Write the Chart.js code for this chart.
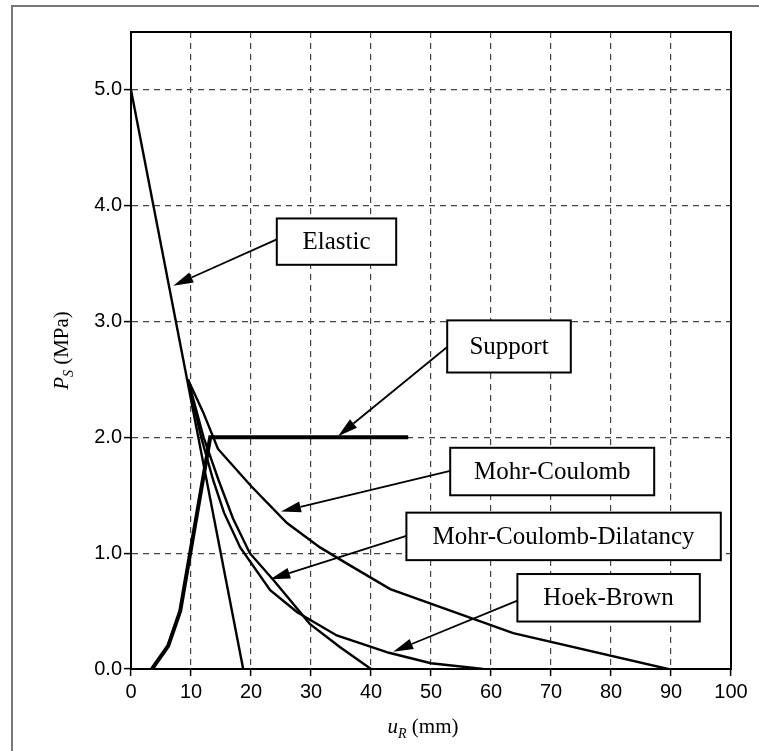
<!DOCTYPE html>
<html>
<head>
<meta charset="utf-8">
<script src="https://cdn.jsdelivr.net/npm/chart.js@4"></script>
<style>
  html, body { margin: 0; padding: 0; background: #fff; }
  #wrap { width: 759px; height: 751px; position: relative; }
</style>
</head>
<body>
<div id="wrap"><canvas id="chart"></canvas></div>
<script>
// Ground reaction curves: radial displacement u_R (mm) vs support pressure P_S (MPa)
const elasticU = [0, 18.7];
const elasticP = [5.0, 0.0];

const mcU = [9.5, 12.0, 14.5, 20.0, 26.0, 31.5, 36.0, 43.2, 63.7, 89.5];
const mcP = [2.5, 2.22, 1.9, 1.58, 1.26, 1.05, 0.91, 0.69, 0.31, 0.0];

const mcdU = [9.5, 12.1, 14.6, 17.0, 19.8, 23.7, 29.8, 34.8, 40.0];
const mcdP = [2.5, 2.0, 1.63, 1.3, 1.0, 0.77, 0.39, 0.19, 0.0];

const hbU = [9.5, 11.7, 13.7, 15.5, 18.2, 23.2, 27.7, 34.3, 43.0, 50.0, 58.7];
const hbP = [2.5, 2.0, 1.63, 1.35, 1.05, 0.68, 0.49, 0.29, 0.14, 0.05, 0.0];

const supportU = [3.5, 6.2, 8.2, 13.2, 46.2];
const supportP = [0.0, 0.2, 0.5, 2.0, 2.0];

const xTicks = [0, 10, 20, 30, 40, 50, 60, 70, 80, 90, 100];
const yTicks = [0.0, 1.0, 2.0, 3.0, 4.0, 5.0];

// callout labels, placed in data units
const notes = [
    { text: 'Elastic', box: [24.3, 3.89, 44.2, 3.49], from: [24.3, 3.71], to: [7.05, 3.31] },
    { text: 'Support', box: [52.7, 3.01, 73.3, 2.56], from: [52.7, 2.78], to: [34.5, 2.01] },
    { text: 'Mohr-Coulomb', box: [53.2, 1.91, 87.2, 1.50], from: [53.2, 1.71], to: [25.0, 1.36] },
    { text: 'Mohr-Coulomb-Dilatancy', box: [45.9, 1.35, 98.3, 0.94], from: [45.9, 1.15], to: [23.2, 0.775] },
    { text: 'Hoek-Brown', box: [64.4, 0.82, 94.8, 0.41], from: [64.4, 0.59], to: [43.7, 0.15] }
];

const toPoints = (us, ps) => us.map((u, i) => ({ x: u, y: ps[i] }));

function line(us, ps, width) {
    return {
        data: toPoints(us, ps),
        showLine: true,
        borderColor: '#000',
        borderWidth: width,
        pointRadius: 0,
        tension: 0,
        fill: false
    };
}

function drawArrow(ctx, x1, y1, x2, y2) {
    const ang = Math.atan2(y2 - y1, x2 - x1);
    const len = 20, half = 5.5;
    const bx = x2 - len * Math.cos(ang), by = y2 - len * Math.sin(ang);
    ctx.beginPath();
    ctx.moveTo(x1, y1);
    ctx.lineTo(bx, by);
    ctx.lineWidth = 1.8;
    ctx.strokeStyle = '#000';
    ctx.stroke();
    ctx.beginPath();
    ctx.moveTo(x2, y2);
    ctx.lineTo(bx + half * Math.sin(ang), by - half * Math.cos(ang));
    ctx.lineTo(bx - half * Math.sin(ang), by + half * Math.cos(ang));
    ctx.closePath();
    ctx.fillStyle = '#000';
    ctx.fill();
}

const decorations = {
    id: 'decorations',
    beforeDraw(chart) {
        const ctx = chart.ctx;
        ctx.save();
        ctx.fillStyle = '#fff';
        ctx.fillRect(0, 0, chart.width, chart.height);
        // page frame
        ctx.strokeStyle = '#777';
        ctx.lineWidth = 2;
        ctx.beginPath();
        ctx.moveTo(12, chart.height);
        ctx.lineTo(12, 6);
        ctx.lineTo(chart.width, 6);
        ctx.stroke();
        ctx.restore();
    },
    afterDatasetsDraw(chart) {
        const ctx = chart.ctx;
        const sx = chart.scales.x, sy = chart.scales.y;
        const a = chart.chartArea;
        ctx.save();
        // plot frame
        ctx.strokeStyle = '#000';
        ctx.lineWidth = 2;
        ctx.strokeRect(a.left, a.top, a.right - a.left, a.bottom - a.top);

        notes.forEach(n => {
            const x1 = sx.getPixelForValue(n.box[0]), y1 = sy.getPixelForValue(n.box[1]);
            const x2 = sx.getPixelForValue(n.box[2]), y2 = sy.getPixelForValue(n.box[3]);
            drawArrow(ctx,
                sx.getPixelForValue(n.from[0]), sy.getPixelForValue(n.from[1]),
                sx.getPixelForValue(n.to[0]), sy.getPixelForValue(n.to[1]));
            ctx.fillStyle = '#fff';
            ctx.fillRect(x1, y1, x2 - x1, y2 - y1);
            ctx.strokeStyle = '#000';
            ctx.lineWidth = 2;
            ctx.strokeRect(x1, y1, x2 - x1, y2 - y1);
            ctx.fillStyle = '#000';
            ctx.font = '25px "Liberation Serif", "Times New Roman", serif';
            ctx.textAlign = 'center';
            ctx.textBaseline = 'middle';
            ctx.fillText(n.text, (x1 + x2) / 2, (y1 + y2) / 2 + 1);
        });

        // axis titles with subscripts
        ctx.fillStyle = '#000';
        ctx.textBaseline = 'alphabetic';
        ctx.textAlign = 'left';
        const big = '21px "Liberation Serif", serif';
        const bigIt = 'italic 21px "Liberation Serif", serif';
        const subIt = 'italic 14px "Liberation Serif", serif';

        function titleParts(parts) {
            let w = 0;
            parts.forEach(p => { ctx.font = p.font; w += ctx.measureText(p.t).width; });
            return w;
        }
        function drawParts(parts, x, y) {
            parts.forEach(p => {
                ctx.font = p.font;
                ctx.fillText(p.t, x, y + (p.dy || 0));
                x += ctx.measureText(p.t).width;
            });
        }
        const xParts = [{ t: 'u', font: bigIt }, { t: 'R', font: subIt, dy: 5 }, { t: ' (mm)', font: big }];
        const xw = titleParts(xParts);
        drawParts(xParts, (a.left + a.right) / 2 - xw / 2 - 8, 733);

        const yParts = [{ t: 'P', font: bigIt }, { t: 'S', font: subIt, dy: 5 }, { t: ' (MPa)', font: big }];
        const yw = titleParts(yParts);
        ctx.translate(68, (a.top + a.bottom) / 2);
        ctx.rotate(-Math.PI / 2);
        drawParts(yParts, -yw / 2, 0);
        ctx.restore();
    }
};

const tickFont = { family: '"Liberation Sans", Arial, sans-serif', size: 20 };

new Chart(document.getElementById('chart'), {
    type: 'scatter',
    data: {
        datasets: [
            line(elasticU, elasticP, 2.4),
            line(mcU, mcP, 2.4),
            line(mcdU, mcdP, 2.4),
            line(hbU, hbP, 2.4),
            line(supportU, supportP, 4)
        ]
    },
    options: {
        responsive: true,
        maintainAspectRatio: false,
        animation: false,
        layout: { padding: { top: 32, right: 28, left: 0, bottom: 0 } },
        plugins: {
            legend: { display: false },
            tooltip: { enabled: false }
        },
        scales: {
            x: {
                type: 'linear',
                min: 0,
                max: 100,
                afterBuildTicks: s => { s.ticks = xTicks.map(v => ({ value: v })); },
                afterFit: s => { s.height = 82; },
                ticks: { color: '#000', font: tickFont, padding: 4, maxRotation: 0, autoSkip: false },
                grid: { color: '#444', lineWidth: 1.2, tickLength: 7, tickColor: '#000', tickWidth: 1.5 },
                border: { display: true, color: '#000', width: 2, dash: [6, 5] }
            },
            y: {
                type: 'linear',
                min: 0,
                max: 5.5,
                afterBuildTicks: s => { s.ticks = yTicks.map(v => ({ value: v })); },
                afterFit: s => { s.width = 131; },
                ticks: {
                    color: '#000',
                    font: tickFont,
                    padding: 2,
                    callback: v => v.toFixed(1)
                },
                grid: { color: '#444', lineWidth: 1.2, tickLength: 7, tickColor: '#000', tickWidth: 1.5 },
                border: { display: true, color: '#000', width: 2, dash: [6, 5] }
            }
        }
    },
    plugins: [decorations]
});
</script>
</body>
</html>
